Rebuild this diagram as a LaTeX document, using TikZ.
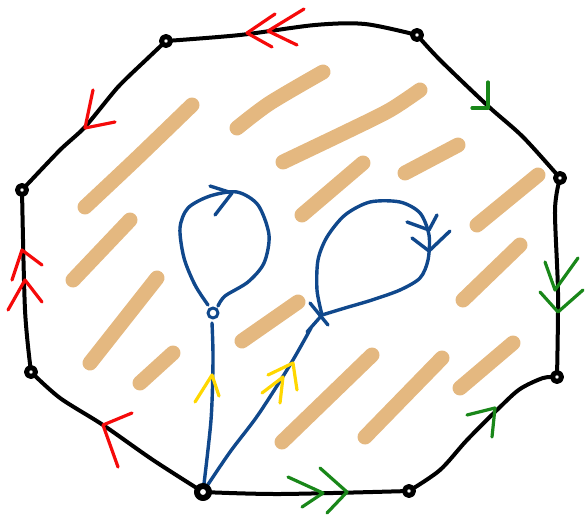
\documentclass[tikz,border=0pt]{standalone}
\definecolor{tanc}{RGB}{228,184,128}
\definecolor{redc}{RGB}{245,10,10}
\definecolor{greenc}{RGB}{25,135,25}
\definecolor{bluec}{RGB}{16,72,140}
\definecolor{yellowc}{RGB}{255,215,0}
\begin{document}
\begin{tikzpicture}[x=1pt,y=-1pt,line cap=round,line join=round,
  edge/.style={line width=4pt,black},
  vtx/.style={circle,draw=black,line width=5pt,fill=white,inner sep=0pt,minimum size=9pt},
  bigvtx/.style={vtx,minimum size=12pt,line width=6pt},
  hatch/.style={line width=15pt,tanc},
  bl/.style={line width=3.4pt,bluec},
  redmark/.style={line width=3.2pt,redc},
  greenmark/.style={line width=3.2pt,greenc},
  yelmark/.style={line width=3.2pt,yellowc}]
\useasboundingbox (0,0) rectangle (585,516);
% vertices
\coordinate (v1) at (166,41);
\coordinate (v2) at (417,35);
\coordinate (v3) at (560,178);
\coordinate (v4) at (557,377);
\coordinate (v5) at (409,491);
\coordinate (v6) at (203,492);
\coordinate (v7) at (31,372);
\coordinate (v8) at (22,190);
\coordinate (p1) at (213,313);
\coordinate (p2) at (322,315);
% hatching
\draw[hatch] plot[smooth] coordinates {(85,207) (135,160) (192,105)};
\draw[hatch] plot[smooth] coordinates {(237,128) (270,103) (323,72)};
\draw[hatch] plot[smooth] coordinates {(283,162) (350,130) (390,110) (420,90)};
\draw[hatch] (302,215) -- (363,163);
\draw[hatch] (405,173) -- (458,145);
\draw[hatch] (477,225) -- (538,175);
\draw[hatch] (73,280) -- (130,220);
\draw[hatch] (90,363) -- (157,278);
\draw[hatch] (140,383) -- (173,353);
\draw[hatch] (242,341) -- (298,302);
\draw[hatch] (282,442) -- (372,355);
\draw[hatch] (365,437) -- (442,358);
\draw[hatch] (463,300) -- (520,245);
\draw[hatch] (460,388) -- (513,343);
% edges
\draw[edge] plot[smooth] coordinates {(v1) (240,35) (315,25) (365,24) (v2)};
\draw[edge] plot[smooth] coordinates {(v2) (440,60) (488,106) (523,137) (v3)};
\draw[edge] plot[smooth] coordinates {(v3) (555,210) (558,293) (v4)};
\draw[edge] plot[smooth] coordinates {(v4) (543,378) (520,389) (500,407) (467,440) (440,470) (v5)};
\draw[edge] plot[smooth] coordinates {(v6) (280,494) (v5)};
\draw[edge] plot[smooth] coordinates {(v7) (60,398) (103,425) (153,460) (v6)};
\draw[edge] plot[smooth] coordinates {(v8) (25,310) (v7)};
\draw[edge] plot[smooth,tension=0.4] coordinates {(v8) (60,150) (85,127) (118,87) (148,58) (v1)};
% red marks
\draw[redmark] (275,14) -- (247,33) -- (272,47);
\draw[redmark] (304,9) -- (268,31) -- (297,45);
\draw[redmark] (93,90) -- (85,128) -- (115,122);
\draw[redmark] (12,280) -- (22,250) -- (42,265);
\draw[redmark] (8,310) -- (25,280) -- (42,302);
\draw[redmark] (132,413) -- (103,425) -- (118,467);
% green marks
\draw[greenmark] (488,82) -- (488,108) -- (472,108);
\draw[greenmark] (545,262) -- (555,290) -- (578,258);
\draw[greenmark] (540,292) -- (558,312) -- (583,290);
\draw[greenmark] (467,415) -- (495,408) -- (492,437);
\draw[greenmark] (288,477) -- (323,493) -- (302,507);
\draw[greenmark] (320,468) -- (347,492) -- (327,513);
% blue loops
\node[circle,draw=bluec,line width=3pt,inner sep=0pt,minimum size=10pt] (c1) at (p1) {};
\draw[bl] plot[smooth] coordinates {(208,305) (195,285) (184,258) (180,228) (188,208) (210,196) (237,192) (258,205) (269,235) (264,263) (248,282) (225,296) (218,306)};
\draw[bl] (210,186) -- (232,193) -- (215,215);
\draw[bl] plot[smooth] coordinates {(212,323) (213,360) (211,420) (v6)};
\draw[bl] plot[smooth] coordinates {(p2) (317,290) (318,260) (327,237) (345,215) (370,202) (400,202) (420,213) (429,235) (428,260) (420,278) (400,290) (372,300) (345,308) (p2)};
\draw[bl] (407,222) -- (429,230) -- (437,215);
\draw[bl] (412,238) -- (429,251) -- (450,231);
\draw[bl] (310,303) -- (328,325);
\draw[bl] (307,332) -- (p2);
\draw[bl] plot[smooth] coordinates {(311,328) (290,365) (258,415) (230,452) (v6)};
% yellow marks
\draw[yelmark] (195,402) -- (212,375) -- (219,396);
\draw[yelmark] (262,393) -- (283,377) -- (280,403);
\draw[yelmark] (268,375) -- (293,363) -- (297,390);
% vertex nodes
\node[vtx] (n1) at (v1) {};
\node[vtx] (n2) at (v2) {};
\node[vtx] (n3) at (v3) {};
\node[vtx] (n4) at (v4) {};
\node[vtx] (n5) at (v5) {};
\node[bigvtx] (n6) at (v6) {};
\node[vtx] (n7) at (v7) {};
\node[vtx] (n8) at (v8) {};
\end{tikzpicture}
\end{document}
